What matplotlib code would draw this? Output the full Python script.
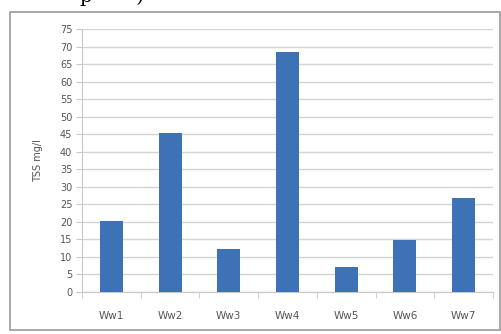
import matplotlib.pyplot as plt
from matplotlib.patches import Rectangle
import numpy as np

samples = ["Ww1", "Ww2", "Ww3", "Ww4", "Ww5", "Ww6", "Ww7"]
tss = [20.3, 45.4, 12.4, 68.3, 7.0, 14.7, 26.7]
y_ticks = list(range(0, 80, 5))

fig = plt.figure(figsize=(5.01, 3.34), dpi=100)
fig.patch.set_facecolor("white")

# chart border box
fig.patches.append(Rectangle((10 / 501, 1 - 330 / 334), 490 / 501, 318 / 334,
                             transform=fig.transFigure, fill=False,
                             edgecolor="#9a9a9a", linewidth=1.2))

# caption line of the page above, only its lower edge shows
fig.text(80 / 501, 1 - 1.5 / 334, "p       )", fontsize=14, family="DejaVu Serif",
         va="baseline", ha="left", color="black")

ax = fig.add_axes([82 / 501, 1 - 292 / 334, 411 / 501, 263 / 334])
x = np.arange(len(samples))
ax.bar(x, tss, width=0.39, color="#3D72B7", zorder=3)

ax.set_xlim(-0.5, len(samples) - 0.5)
ax.set_ylim(0, 75)
ax.set_yticks(y_ticks)
ax.set_yticklabels([str(v) for v in y_ticks], fontsize=7, color="#555555")
ax.yaxis.grid(True, color="#d4d4d4", linewidth=1.0, zorder=0)

ax.set_xticks(x)
ax.set_xticklabels(samples, fontsize=7.5, color="#555555")
ax.tick_params(axis="x", length=0, pad=14)
ax.set_xticks(np.arange(-0.5, len(samples), 1.0), minor=True)
ax.tick_params(axis="x", which="minor", length=4, color="#c8c8c8")
ax.tick_params(axis="y", length=4, color="#c8c8c8", pad=3)

for side in ["top", "right"]:
    ax.spines[side].set_visible(False)
ax.spines["left"].set_color("#c8c8c8")
ax.spines["bottom"].set_color("#c8c8c8")

ax.set_ylabel("TSS mg/l", fontsize=7, color="#555555", labelpad=12)

fig.savefig("out.png", dpi=100)
